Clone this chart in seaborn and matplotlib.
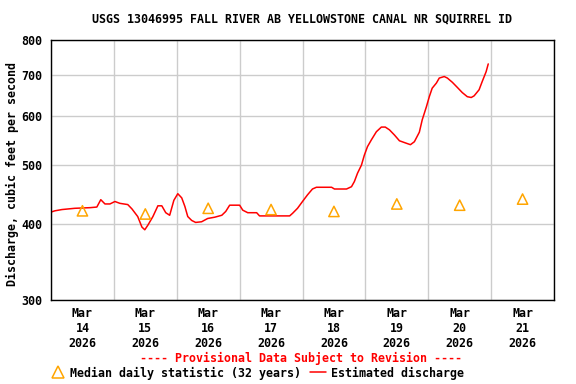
import matplotlib
matplotlib.use("Agg")
import matplotlib.pyplot as plt
import matplotlib.dates as mdates
from matplotlib.lines import Line2D
import seaborn as sns
import pandas as pd

# Estimated discharge, hours since 2026-03-14 00:00
hours = [0, 1.5, 4.2, 9.1, 14.9, 17.5, 19.0, 20.6, 22.5, 24.4, 26.3, 29.3, 30.9,
         33.1, 34.7, 35.8, 37.0, 38.9, 40.8, 42.3, 43.8, 45.3, 46.9, 48.4, 49.9,
         51.1, 52.2, 53.7, 55.2, 57.5, 59.8, 62.5, 65.2, 66.7, 68.2, 70.5, 72.0,
         73.2, 75.1, 78.5, 79.6, 91.1, 92.2, 94.1, 96.0, 97.9, 99.8, 101.3, 107.1,
         108.2, 112.8, 114.7, 115.8, 117.0, 118.5, 119.6, 120.8, 122.3, 124.2,
         126.1, 127.6, 129.2, 131.1, 133.0, 135.6, 137.2, 138.7, 140.6, 141.7,
         143.3, 144.4, 145.5, 147.1, 148.2, 150.1, 151.3, 153.2, 155.1, 157.0,
         158.9, 160.4, 161.5, 163.4, 164.6, 166.1, 166.9]
discharge = [418, 420, 422, 424, 425, 426, 438, 431, 431, 435, 432, 430, 423,
             411, 395, 391, 398, 411, 428, 428, 417, 413, 437, 448, 441,
             427, 411, 405, 402, 403, 408, 410, 413, 419, 429, 429, 429,
             421, 417, 417, 412, 412, 416, 424, 435, 446, 456, 459, 459,
             456, 456, 460, 469, 484, 499, 518, 535, 549, 566,
             576, 576, 570, 559, 547, 542, 539, 545, 565, 592,
             622, 646, 667, 680, 693, 697, 693, 682, 669, 656,
             646, 644, 648, 663, 684, 710, 731]

# Median daily statistic (32 years), plotted at noon
median_days = ["2026-03-14", "2026-03-15", "2026-03-16", "2026-03-17",
               "2026-03-18", "2026-03-19", "2026-03-20", "2026-03-21"]
median_values = [420, 415, 424, 422, 419, 431, 429, 439]

title = "USGS 13046995 FALL RIVER AB YELLOWSTONE CANAL NR SQUIRREL ID"

start = pd.Timestamp("2026-03-14")
flow = pd.DataFrame({"time": start + pd.to_timedelta(hours, unit="h"),
                     "discharge": discharge})
med = pd.DataFrame({"time": pd.to_datetime(median_days) + pd.Timedelta(hours=12),
                    "median": median_values})

sns.set_style("white")
plt.rcParams["font.family"] = ["DejaVu Sans Mono"]
plt.rcParams["font.weight"] = "bold"
plt.rcParams["text.color"] = "black"
plt.rcParams["axes.labelcolor"] = "black"
fs = 8.4

fig = plt.figure(figsize=(5.76, 3.84), dpi=100)
ax = fig.add_axes([51 / 576, 1 - 300 / 384, (554 - 51) / 576, 260 / 384])

sns.lineplot(data=flow, x="time", y="discharge", ax=ax, color="red", linewidth=1.1)
sns.scatterplot(data=med, x="time", y="median", ax=ax, marker="^", s=55,
                facecolor="none", edgecolor="orange", linewidth=1.1, zorder=3)

ax.set_yscale("log")
ax.set_ylim(300, 800)
yt = [300, 400, 500, 600, 700, 800]
ax.set_yticks(yt)
ax.set_yticklabels([str(v) for v in yt])
ax.yaxis.set_minor_locator(matplotlib.ticker.NullLocator())

ax.set_xlim(start, start + pd.Timedelta(days=8))
ax.xaxis.set_major_locator(mdates.HourLocator(byhour=[12]))
ax.xaxis.set_major_formatter(mdates.DateFormatter("%b\n%d\n%Y"))
ax.xaxis.set_minor_locator(mdates.DayLocator())

ax.grid(False)
ax.grid(True, which="minor", axis="x", color="#cccccc", linewidth=1)
ax.grid(True, which="major", axis="y", color="#cccccc", linewidth=1)
ax.tick_params(axis="both", which="both", length=0, labelsize=fs, colors="black")
ax.tick_params(axis="x", pad=5)
ax.tick_params(axis="y", pad=6)
for lbl in ax.get_xticklabels() + ax.get_yticklabels():
    lbl.set_fontweight("bold")
for s in ax.spines.values():
    s.set_color("black")
    s.set_linewidth(1)

ax.set_xlabel("")
ax.set_ylabel("Discharge, cubic feet per second", fontsize=fs, fontweight="bold")
ax.yaxis.set_label_coords(-0.064, 0.483)
fig.text(302 / 576, 1 - 19 / 384, title, ha="center", va="center",
         fontsize=fs, fontweight="bold", color="black")

fig.text(301 / 576, 1 - 358 / 384, "---- Provisional Data Subject to Revision ----",
         ha="center", va="center", fontsize=fs, fontweight="bold", color="red")

handles = [Line2D([], [], marker="^", linestyle="none", markerfacecolor="none",
                  markeredgecolor="orange", markersize=8, markeredgewidth=1.1),
           Line2D([], [], color="red", linewidth=1.1)]
fig.legend(handles, ["Median daily statistic (32 years)", "Estimated discharge"],
           loc="center left", bbox_to_anchor=(50 / 576, 1 - 373 / 384), ncol=2,
           frameon=False, prop={"size": fs, "weight": "bold"},
           handlelength=1.4, handletextpad=0.35, columnspacing=0.75, borderpad=0,
           borderaxespad=0)

fig.savefig("out.png", dpi=100)
